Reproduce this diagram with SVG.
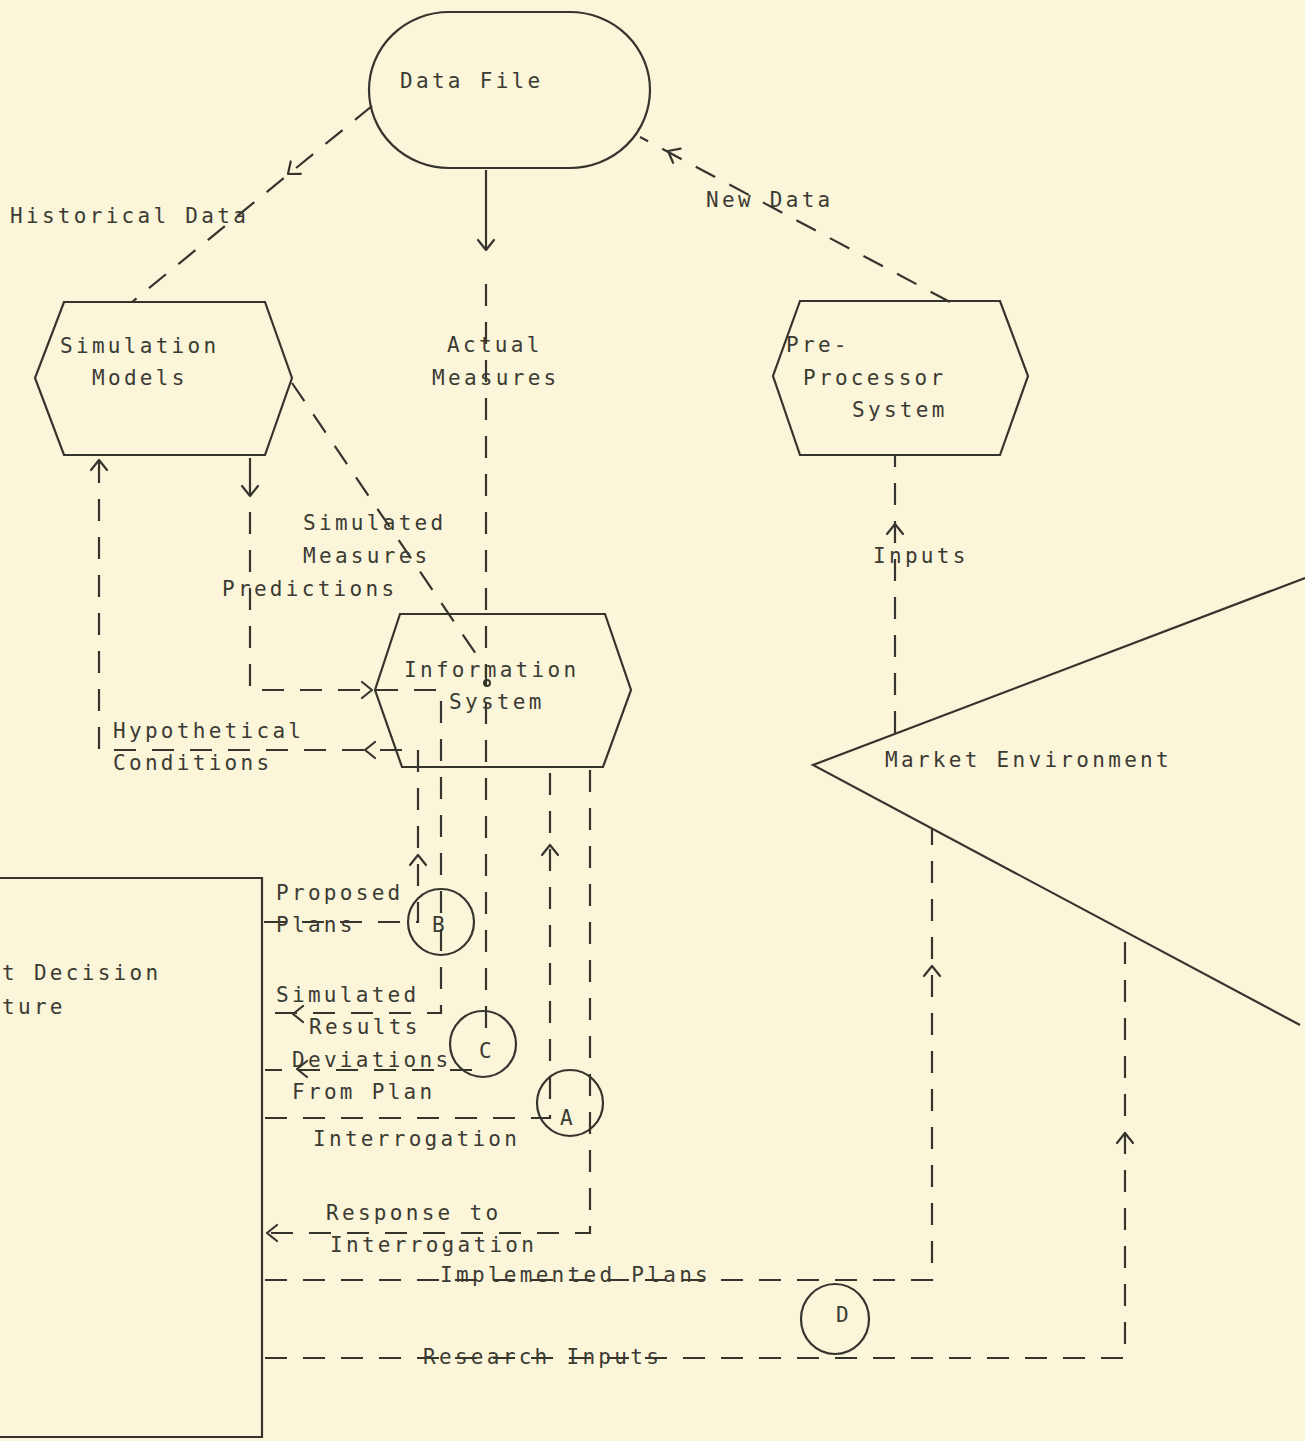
<svg xmlns="http://www.w3.org/2000/svg" xmlns:xlink="http://www.w3.org/1999/xlink" width="1305" height="1441" viewBox="0 0 1305 1441">
<style>
.bg{fill:#fbf5da}
.sh{fill:none;stroke:#35352d;stroke-width:2.2}
.cn{fill:none;stroke:#35352d;stroke-width:2.2;stroke-dasharray:22 16}
.so{fill:none;stroke:#35352d;stroke-width:2.2}
.ah{fill:none;stroke:#35352d;stroke-width:2.2;stroke-linecap:round;stroke-linejoin:round}
text{font-family:"DejaVu Sans Mono","Liberation Mono",monospace;font-size:21px;letter-spacing:3.3px;fill:#3b3b33}
</style>
<defs>
<path id="ah" class="ah" d="M-10,-8 L0,0 L-10,8"/>
</defs>
<rect class="bg" x="0" y="0" width="1305" height="1441"/>

<g id="connectors">
<path class="cn" d="M372,106 L132,302"/>
<path class="so" d="M486,170 V250"/>
<path class="cn" d="M486,284 V1040"/>
<path class="cn" d="M950,302 L640,137"/>
<path class="cn" d="M292,383 L478,657"/>
<path class="so" d="M250,458 V496"/>
<path class="cn" d="M250,512 V690 H441 V1013 H265"/>
<path class="cn" d="M264,922 H418 V750 H99 V458"/>
<path class="cn" d="M472,1070 H265"/>
<path class="cn" d="M265,1118 H550 V770"/>
<path class="cn" d="M590,770 V1233 H265"/>
<path class="cn" d="M265,1280 H932 V828"/>
<path class="cn" d="M265,1358 H1125 V930"/>
<path class="cn" d="M895,733 V455"/>
<use xlink:href="#ah" transform="translate(288,174) rotate(140.8)"/>
<use xlink:href="#ah" transform="translate(486,250) rotate(90)"/>
<use xlink:href="#ah" transform="translate(668,151) rotate(207.9)"/>
<use xlink:href="#ah" transform="translate(250,496) rotate(90)"/>
<use xlink:href="#ah" transform="translate(372,690) rotate(0)"/>
<use xlink:href="#ah" transform="translate(365,750) rotate(180)"/>
<use xlink:href="#ah" transform="translate(99,460) rotate(-90)"/>
<use xlink:href="#ah" transform="translate(418,855) rotate(-90)"/>
<use xlink:href="#ah" transform="translate(550,845) rotate(-90)"/>
<use xlink:href="#ah" transform="translate(293,1014) rotate(180)"/>
<use xlink:href="#ah" transform="translate(297,1069) rotate(180)"/>
<use xlink:href="#ah" transform="translate(267,1233) rotate(180)"/>
<use xlink:href="#ah" transform="translate(932,966) rotate(-90)"/>
<use xlink:href="#ah" transform="translate(1125,1133) rotate(-90)"/>
<use xlink:href="#ah" transform="translate(895,524) rotate(-90)"/>
</g>

<g id="data-file">
<rect class="sh" x="369" y="12" width="281" height="156" rx="80" ry="78"/>
<text x="400" y="88">Data File</text>
</g>

<g id="simulation-models">
<polygon class="sh" points="64,302 265,302 292,378 265,455 64,455 35,378"/>
<text x="60" y="353">Simulation</text>
<text x="92" y="385">Models</text>
</g>

<g id="pre-processor">
<polygon class="sh" points="800,301 1000,301 1028,376 1000,455 800,455 773,376"/>
<text x="786" y="352">Pre-</text>
<text x="803" y="385">Processor</text>
<text x="852" y="417">System</text>
</g>

<g id="information-system">
<polygon class="sh" points="400,614 605,614 631,690 603,767 402,767 375,690"/>
<circle cx="487" cy="683" r="3" fill="none" stroke="#35352d" stroke-width="2"/>
<text x="404" y="677">Information</text>
<text x="449" y="709">System</text>
</g>

<g id="market-environment">
<path class="sh" d="M1305,578 L813,765 L1300,1025"/>
<text x="885" y="767">Market Environment</text>
</g>

<g id="decision-structure">
<path class="sh" d="M0,878 H262 V1437 H0"/>
<text x="2" y="980">t Decision</text>
<text x="2" y="1014">ture</text>
</g>

<g id="circle-b">
<circle class="sh" cx="441" cy="922" r="33"/>
<text x="432" y="932">B</text>
</g>
<g id="circle-c">
<circle class="sh" cx="483" cy="1044" r="33"/>
<text x="479" y="1058">C</text>
</g>
<g id="circle-a">
<circle class="sh" cx="570" cy="1103" r="33"/>
<text x="560" y="1125">A</text>
</g>
<g id="circle-d">
<ellipse class="sh" cx="835" cy="1319" rx="34" ry="35"/>
<text x="836" y="1322">D</text>
</g>

<g id="labels">
<text x="10" y="223">Historical Data</text>
<text x="706" y="207">New Data</text>
<text x="447" y="352">Actual</text>
<text x="432" y="385">Measures</text>
<text x="303" y="530">Simulated</text>
<text x="303" y="563">Measures</text>
<text x="222" y="596">Predictions</text>
<text x="873" y="563">Inputs</text>
<text x="113" y="738">Hypothetical</text>
<text x="113" y="770">Conditions</text>
<text x="276" y="900">Proposed</text>
<text x="276" y="932">Plans</text>
<text x="276" y="1002">Simulated</text>
<text x="309" y="1034">Results</text>
<text x="292" y="1067">Deviations</text>
<text x="292" y="1099">From Plan</text>
<text x="313" y="1146">Interrogation</text>
<text x="326" y="1220">Response to</text>
<text x="330" y="1252">Interrogation</text>
<text x="440" y="1282">Implemented Plans</text>
<text x="423" y="1364">Research Inputs</text>
</g>
</svg>
